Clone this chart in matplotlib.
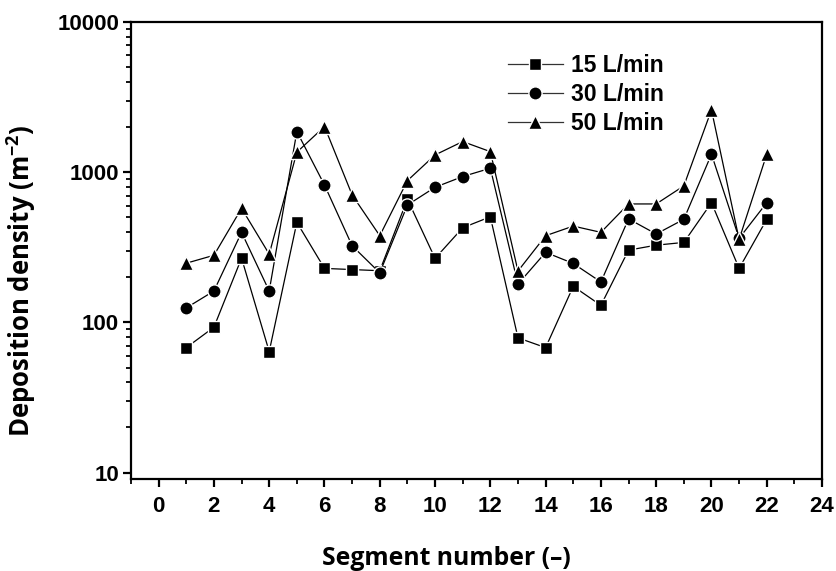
import numpy as np
import matplotlib.pyplot as plt
from matplotlib.ticker import MultipleLocator, NullFormatter

plt.rcParams['font.family'] = 'Liberation Sans'
plt.rcParams['font.weight'] = 'bold'
plt.rcParams['mathtext.fontset'] = 'custom'
plt.rcParams['mathtext.bf'] = 'Open Sans:bold'
plt.rcParams['mathtext.rm'] = 'Open Sans:bold'

# Data
segments = list(range(1, 23))
flow_15 = [68, 93, 268, 64, 464, 229, 225, 221, 661, 267, 427, 505,
           79, 68, 174, 130, 303, 327, 341, 627, 229, 486]
flow_30 = [125, 162, 398, 162, 1866, 822, 324, 214, 605, 794, 936, 1063,
           180, 293, 247, 186, 489, 388, 486, 1318, 363, 627]
flow_50 = [248, 280, 575, 285, 1359, 2014, 706, 378, 879, 1303, 1600, 1371,
           220, 378, 438, 398, 615, 615, 811, 2600, 357, 1318]
labels = ['15 L/min', '30 L/min', '50 L/min']
y_ticks = [10, 100, 1000, 10000]

fig = plt.figure(figsize=(8.36, 5.71), dpi=100)
ax = fig.add_axes([0.1567, 0.1611, 0.8266, 0.8004])

style = dict(color='black', lw=0.9, mec='white', mew=1.0, mfc='black')
ax.plot(segments, flow_15, '-s', ms=9, label=labels[0], **style)
ax.plot(segments, flow_30, '-o', ms=9.5, label=labels[1], **style)
ax.plot(segments, flow_50, '-^', ms=10.5, label=labels[2], **style)

ax.set_yscale('log')
ax.xaxis.set_major_locator(MultipleLocator(2))
ax.xaxis.set_minor_locator(MultipleLocator(1))
ax.set_yticks(y_ticks)
ax.set_yticklabels([str(v) for v in y_ticks])
minor_y = [m * d for d in (10, 100, 1000) for m in range(2, 10)]
ax.set_yticks(minor_y, minor=True)
ax.yaxis.set_minor_formatter(NullFormatter())
ax.set_xlim(-1, 24)
ax.set_ylim(9.08, 10000)

for s in ax.spines.values():
    s.set_linewidth(1.6)
ax.tick_params(which='major', direction='out', length=5.5, width=1.6,
               labelsize=16)
ax.tick_params(axis='x', which='major', pad=7)
ax.tick_params(axis='y', which='major', pad=3)
ax.tick_params(which='minor', direction='out', length=3.5, width=1.3)

ax.set_xlabel('Segment number (\u2013)', fontsize=17.8, fontweight='bold',
              family='Open Sans')
ax.set_ylabel('Deposition density (m$^{\\mathbf{-2}}$)', fontsize=18.5,
              fontweight='bold', family='Open Sans')
ax.xaxis.set_label_coords(0.457, -0.147)
ax.yaxis.set_label_coords(-0.135, 0.435)

leg = ax.legend(loc='upper left', bbox_to_anchor=(0.545, 0.929), frameon=False,
                prop={'family': 'Liberation Sans', 'weight': 'bold', 'size': 16.5},
                handlelength=2.4, labelspacing=0.25, handletextpad=0.35,
                borderpad=0, borderaxespad=0)
for h in leg.get_lines():
    h.set_color('#333333')
    h.set_markerfacecolor('black')
    h.set_markeredgecolor('white')

fig.savefig('out.png', dpi=100)
